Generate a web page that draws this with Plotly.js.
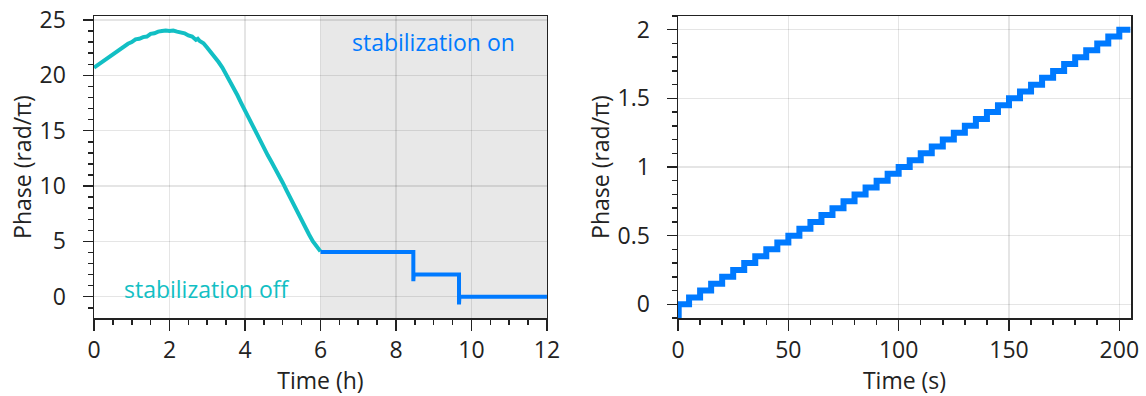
<!DOCTYPE html>
<html>
<head>
<meta charset="utf-8">
<script src="https://cdn.plot.ly/plotly-3.0.1.min.js"></script>
<style>html,body{margin:0;padding:0;background:#fff;}#chart{width:1146px;height:396px;}</style>
</head>
<body>
<div id="chart"></div>
<script>
// Left panel: stabilization off (drift), hours
var offTime = [0,0.1,0.2,0.3,0.4,0.5,0.6,0.7,0.8,0.9,1.0,1.1,1.2,1.3,1.4,1.5,1.6,1.7,1.8,1.9,2.0,2.1,2.2,2.3,2.4,2.5,2.6,2.7,2.75,2.8,2.9,3.0,3.1,3.2,3.3,3.4,3.5,3.6,3.7,3.8,3.9,4.0,4.1,4.2,4.3,4.4,4.5,4.6,4.7,4.8,4.9,5.0,5.1,5.2,5.3,5.4,5.5,5.6,5.7,5.8,5.9,6.0];
var offPhase = [20.7,20.95,21.1,21.4,21.6,21.95,22.2,22.35,22.7,22.85,23.0,23.25,23.3,23.45,23.5,23.75,23.8,23.95,24.0,24.05,24.0,24.05,23.95,23.9,23.8,23.6,23.5,23.2,23.3,23.1,22.9,22.5,22.1,21.7,21.2,20.7,20.1,19.5,18.8,18.2,17.5,16.8,16.1,15.4,14.7,14.0,13.4,12.8,12.2,11.6,11.0,10.3,9.6,8.9,8.2,7.5,6.8,6.2,5.6,5.0,4.5,4.1];
// Left panel: stabilization on (steps)
var onTime = [6.0,8.46,8.46,8.47,9.67,9.67,9.68,12.0];
var onPhase = [4.05,4.05,1.4,2.0,2.0,-0.7,0,0];
// Right panel: stepped phase ramp, seconds
var stepTime = [0.3,0.3,5,10,15,20,25,30,35,40,45,50,55,60,65,70,75,80,85,90,95,100,105,110,115,120,125,130,135,140,145,150,155,160,165,170,175,180,185,190,195,200,205];
var stepPhase = [-0.1,0,0.05,0.1,0.15,0.2,0.25,0.3,0.35,0.4,0.45,0.5,0.55,0.6,0.65,0.7,0.75,0.8,0.85,0.9,0.95,1.0,1.05,1.1,1.15,1.2,1.25,1.3,1.35,1.4,1.45,1.5,1.55,1.6,1.65,1.7,1.75,1.8,1.85,1.9,1.95,2.0,2.0];
var labelOn = "stabilization on";
var labelOff = "stabilization off";

var CYAN = "#12BFC4";
var BLUE = "#007AFF";
var FONT = "Open Sans";
var INK = "#222";
var FS = 23;

var traces = [
  {x: offTime, y: offPhase, mode: "lines", line: {color: CYAN, width: 4}, xaxis: "x", yaxis: "y", hoverinfo: "skip"},
  {x: onTime, y: onPhase, mode: "lines", line: {color: BLUE, width: 4}, xaxis: "x", yaxis: "y", hoverinfo: "skip"},
  {x: stepTime, y: stepPhase, mode: "lines", line: {color: BLUE, width: 6, shape: "hv"}, xaxis: "x2", yaxis: "y2", hoverinfo: "skip"}
];

function ax(extra) {
  var base = {
    showline: true, linecolor: INK, linewidth: 1.5, mirror: true,
    ticks: "outside", ticklen: 10, tickwidth: 1.5, tickcolor: INK,
    showgrid: true, gridcolor: "rgba(0,0,0,0.1)", gridwidth: 1.5,
    zeroline: false, automargin: false,
    tickfont: {family: FONT, size: FS, color: INK},
    title: {font: {family: FONT, size: FS, color: INK}}
  };
  for (var k in extra) {
    if (k === "titleText") base.title.text = extra[k]; else base[k] = extra[k];
  }
  return base;
}

var layout = {
  width: 1146, height: 396,
  margin: {l: 94, r: 15, t: 16, b: 78},
  paper_bgcolor: "#fff", plot_bgcolor: "#fff",
  showlegend: false,
  font: {family: FONT, color: INK},
  xaxis: ax({domain: [0, 0.4368], range: [0, 12], dtick: 2, tick0: 0, titleText: "Time (h)", anchor: "y", ticklen: 11,
    minor: {ticks: "outside", ticklen: 5, tickwidth: 1.5, tickcolor: INK, dtick: 0.5, showgrid: false}}),
  yaxis: ax({domain: [0, 1], range: [-1.92, 25.36], dtick: 5, tick0: 0, titleText: "Phase (rad/π)", anchor: "x", ticklabelstandoff: 12,
    minor: {ticks: "outside", ticklen: 5, tickwidth: 1.5, tickcolor: INK, dtick: 1, showgrid: false}}),
  xaxis2: ax({domain: [0.5632, 1], range: [0, 205.3], dtick: 50, tick0: 0, titleText: "Time (s)", anchor: "y2", ticklen: 11,
    minor: {ticks: "outside", ticklen: 5, tickwidth: 1.5, tickcolor: INK, dtick: 10, showgrid: false}}),
  yaxis2: ax({domain: [0, 1], range: [-0.1, 2.1], dtick: 0.5, tick0: 0, titleText: "Phase (rad/π)", anchor: "x2", ticklabelstandoff: 12,
    minor: {ticks: "outside", ticklen: 5, tickwidth: 1.5, tickcolor: INK, dtick: 0.1, showgrid: false}}),
  shapes: [
    {type: "rect", xref: "x", yref: "paper", x0: 6, x1: 12, y0: 0, y1: 1, fillcolor: "#e8e8e8", line: {width: 0}, layer: "below"}
  ],
  annotations: [
    {text: labelOn, x: 9.0, y: 23.05, xref: "x", yref: "y", showarrow: false, font: {family: FONT, size: FS, color: BLUE}},
    {text: labelOff, x: 3.0, y: 0.7, xref: "x", yref: "y", showarrow: false, font: {family: FONT, size: FS, color: CYAN}}
  ]
};

Plotly.newPlot("chart", traces, layout, {staticPlot: true, displayModeBar: false});
</script>
</body>
</html>
